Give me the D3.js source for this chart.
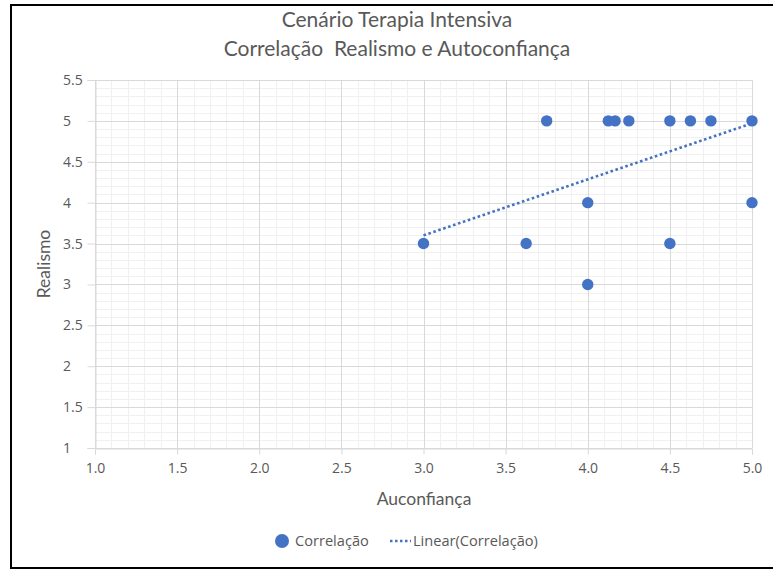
<!DOCTYPE html>
<html><head><meta charset="utf-8">
<script src="https://cdn.jsdelivr.net/npm/d3@7"></script>
<style>body{margin:0;background:#fff}svg{display:block}text{white-space:pre}</style>
</head><body>
<script>
const autoconfianca = [3.0, 3.625, 3.75, 4.0, 4.0, 4.125, 4.1667, 4.25, 4.5, 4.5, 4.625, 4.75, 5.0, 5.0];
const realismo      = [3.5, 3.5,   5.0,  4.0, 3.0, 5.0,   5.0,    5.0,  5.0, 3.5, 5.0,   5.0,  5.0, 4.0];
const trendX = [3.0, 5.0];
const trendY = [3.6, 4.97];
const xTicks = [1.0, 1.5, 2.0, 2.5, 3.0, 3.5, 4.0, 4.5, 5.0];
const yTicks = [1, 1.5, 2, 2.5, 3, 3.5, 4, 4.5, 5, 5.5];
const titleLines = ["Cenário Terapia Intensiva", "Correlação  Realismo e Autoconfiança"];
const xTitle = "Auconfiança", yTitle = "Realismo";
const legendLabels = ["Correlação", "Linear(Correlação)"];

(function(){
const W = 773, H = 570;
const svg = d3.select("body").append("svg").attr("width", W).attr("height", H);
const pL = 95, pR = 752, pT = 80, pB = 448;
const x = d3.scaleLinear().domain([1, 5]).range([pL, pR]);
const y = d3.scaleLinear().domain([1, 5.5]).range([pB, pT]);
const blue = "#4472C4";
const grey = "#595959";

// frame
svg.append("rect").attr("x", 11).attr("y", 5).attr("width", 780).attr("height", 563)
  .attr("fill", "none").attr("stroke", "#000").attr("stroke-width", 2);

// minor grid
const g = svg.append("g");
const minorX = d3.range(1, 5.0001, 0.1), minorY = d3.range(1, 5.5001, 0.1);
g.selectAll(".mx").data(minorX).join("line")
  .attr("x1", d => Math.round(x(d)) + 0.5).attr("x2", d => Math.round(x(d)) + 0.5)
  .attr("y1", pT).attr("y2", pB).attr("stroke", "#f0f0f0");
g.selectAll(".my").data(minorY).join("line")
  .attr("y1", d => Math.round(y(d)) + 0.5).attr("y2", d => Math.round(y(d)) + 0.5)
  .attr("x1", pL).attr("x2", pR).attr("stroke", "#f0f0f0");
// major grid
g.selectAll(".Mx").data(xTicks).join("line")
  .attr("x1", d => Math.round(x(d)) + 0.5).attr("x2", d => Math.round(x(d)) + 0.5)
  .attr("y1", pT).attr("y2", pB).attr("stroke", "#d9d9d9");
g.selectAll(".My").data(yTicks).join("line")
  .attr("y1", d => Math.round(y(d)) + 0.5).attr("y2", d => Math.round(y(d)) + 0.5)
  .attr("x1", pL).attr("x2", pR).attr("stroke", "#d9d9d9");

// axes
const font = "'Open Sans', 'Noto Sans', sans-serif";
const xAxis = svg.append("g").attr("transform", `translate(0,${pB + 0.5})`)
  .call(d3.axisBottom(x).tickValues(xTicks).tickFormat(d3.format(".1f")).tickSize(6).tickPadding(9));
const yAxis = svg.append("g").attr("transform", `translate(${pL + 0.5},0)`)
  .call(d3.axisLeft(y).tickValues(yTicks).tickFormat(d => d3.format("")(d)).tickSize(8).tickPadding(4));
[xAxis, yAxis].forEach(a => {
  a.selectAll("path").attr("stroke", "#d9d9d9");
  a.selectAll("line").attr("stroke", "#d9d9d9");
  a.selectAll("text").attr("fill", grey).style("font-family", font).style("font-size", "14px");
});
// y labels are left-aligned in the reference
yAxis.selectAll("text").attr("text-anchor", "start").attr("x", 63 - (pL + 0.5));

// trend line
svg.append("line")
  .attr("x1", x(trendX[0])).attr("y1", y(trendY[0]))
  .attr("x2", x(trendX[1])).attr("y2", y(trendY[1]))
  .attr("stroke", blue).attr("stroke-width", 2.6).attr("stroke-dasharray", "2.6,2.6");

// points
svg.selectAll(".pt").data(autoconfianca.map((d, i) => [d, realismo[i]])).join("circle")
  .attr("cx", d => x(d[0])).attr("cy", d => y(d[1])).attr("r", 5.7).attr("fill", blue);

// titles
const tfont = "'Lato', sans-serif";
svg.selectAll(".title").data(titleLines).join("text")
  .attr("x", 397).attr("y", (d, i) => 27 + i * 29).attr("text-anchor", "middle")
  .attr("fill", grey).style("font-family", tfont).style("font-size", "21px").text(d => d);
svg.append("text").attr("x", 424).attr("y", 505).attr("text-anchor", "middle")
  .attr("fill", grey).style("font-family", tfont).style("font-size", "17.5px").text(xTitle);
svg.append("text").attr("transform", "translate(50,264) rotate(-90)").attr("text-anchor", "middle")
  .attr("fill", grey).style("font-family", tfont).style("font-size", "17.5px").text(yTitle);

// legend
svg.append("circle").attr("cx", 282).attr("cy", 541).attr("r", 7).attr("fill", blue);
svg.append("text").attr("x", 295).attr("y", 546).attr("fill", grey)
  .style("font-family", font).style("font-size", "14.6px").text(legendLabels[0]);
svg.append("line").attr("x1", 390).attr("x2", 411).attr("y1", 541).attr("y2", 541)
  .attr("stroke", blue).attr("stroke-width", 2.5).attr("stroke-dasharray", "2.5,2.5");
svg.append("text").attr("x", 413).attr("y", 546).attr("fill", grey)
  .style("font-family", font).style("font-size", "14.6px").text(legendLabels[1]);
})();
</script>
</body></html>
